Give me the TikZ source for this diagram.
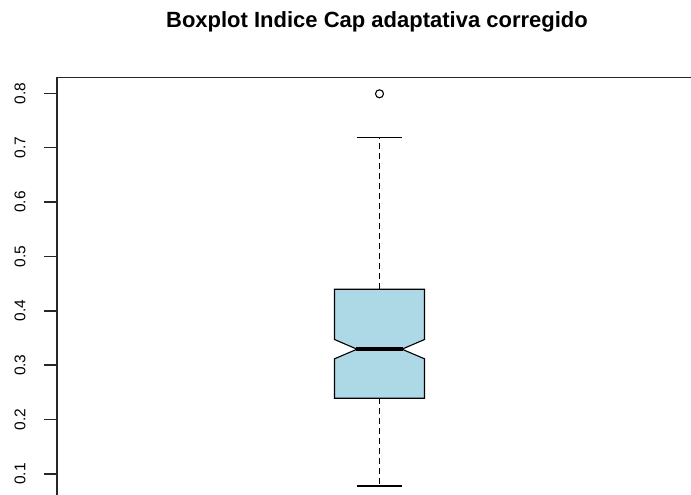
\documentclass[tikz,border=0pt]{standalone}
\usepackage{fontspec}
\setmainfont{Liberation Sans}
\definecolor{boxfill}{RGB}{173,216,230}
\begin{document}
\begin{tikzpicture}[x=1pt,y=-1pt,
  frame/.style={line width=1.5pt,draw=black!85},
  tick/.style={line width=1.5pt,draw=black!85},
  ticklabel/.style={rotate=90,font=\fontsize{15.5}{16}\selectfont,inner sep=0pt,anchor=center},
  whisk/.style={line width=1.5pt,dash pattern=on 6pt off 4pt},
  capline/.style={line width=1.5pt},
  boxshape/.style={fill=boxfill,draw=black,line width=1.1pt}]
\useasboundingbox (0,0) rectangle (691,495);
\begin{scope}
\clip (0,0) rectangle (691,495);
% title
\node[font=\fontsize{22}{24}\selectfont\bfseries,inner sep=0pt] (title) at (377,22) {Boxplot Indice Cap adaptativa corregido};
% frame
\draw[frame] (57,77.5) rectangle (720,520);
% ticks and labels
\foreach \n/\v/\y in {1/0.1/474, 2/0.2/419.6, 3/0.3/365.2, 4/0.4/310.8, 5/0.5/256.4, 6/0.6/202, 7/0.7/147.6, 8/0.8/93.3}{
  \coordinate (t\n) at (57,\y);
  \coordinate (s\n) at (44,\y);
  \draw[tick] (s\n) -- (t\n);
  \node[ticklabel] (l\n) at (20,\y) {\v};
}
% whiskers
\coordinate (wtop) at (379.5,137.5);
\coordinate (btop) at (379.5,289.2);
\coordinate (bbot) at (379.5,398.2);
\coordinate (wbot) at (379.5,485.8);
\draw[whisk] (btop) -- (wtop);
\draw[whisk] (bbot) -- (wbot);
\draw[capline] (356.7,137.5) -- (402.3,137.5);
\draw[capline] (356.7,485.8) -- (402.3,485.8);
% notched box
\draw[boxshape] (334.5,289.2) -- (424.5,289.2) -- (424.5,339.5) -- (402,349.2) -- (424.5,358.8) -- (424.5,398.2)
  -- (334.5,398.2) -- (334.5,358.8) -- (357,349.2) -- (334.5,339.5) -- cycle;
\draw[line width=4pt] (356,349.2) -- (403,349.2);
% outlier
\node[circle,draw=black,line width=1.1pt,minimum size=8pt,inner sep=0pt] (out) at (379.5,93.8) {};
\end{scope}
\end{tikzpicture}
\end{document}
